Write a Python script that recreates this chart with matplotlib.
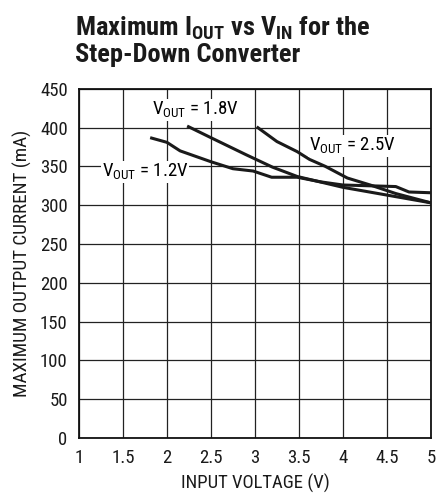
import matplotlib
matplotlib.use("Agg")
import matplotlib.pyplot as plt
from matplotlib import font_manager

names = set(f.name for f in font_manager.fontManager.ttflist)
fam = 'DejaVu Sans'
for n in ['Roboto Condensed', 'Archivo Narrow', 'PT Sans Narrow', 'Fira Sans Condensed']:
    if n in names:
        fam = n
        break
plt.rcParams['font.family'] = [fam, 'DejaVu Sans']
plt.rcParams['mathtext.fontset'] = 'custom'
plt.rcParams['mathtext.rm'] = fam
plt.rcParams['mathtext.bf'] = fam + ':bold'

# data
vin_12 = [1.81, 2.0, 2.15, 2.5, 2.75, 2.98, 3.19, 3.48, 3.75, 4.0, 4.3, 4.6, 4.75, 5.0]
iout_12 = [387, 381, 370, 356, 347, 344, 336, 336, 330, 326, 325, 324, 317, 316]
vin_18 = [2.23, 2.5, 2.9, 3.2, 3.48, 3.74, 4.0, 4.5, 5.0]
iout_18 = [402, 387, 365, 349, 337, 330, 323, 313, 303]
vin_25 = [3.02, 3.25, 3.48, 3.62, 3.8, 4.05, 4.31, 4.6, 5.0]
iout_25 = [401, 382, 369, 359, 350, 335, 326, 315, 303]

xticks = [1, 1.5, 2, 2.5, 3, 3.5, 4, 4.5, 5]
xtick_labels = ['1', '1.5', '2', '2.5', '3', '3.5', '4', '4.5', '5']
yticks = list(range(0, 451, 50))

fig = plt.figure(figsize=(4.38, 4.96), dpi=100)
ax = fig.add_axes([0.180, 0.117, 0.804, 0.704])

for x, y in [(vin_12, iout_12), (vin_18, iout_18), (vin_25, iout_25)]:
    ax.plot(x, y, color='#1a1a1a', lw=2.2, solid_capstyle='butt', zorder=3)

ax.set_xlim(1, 5)
ax.set_ylim(0, 450)
ax.set_xticks(xticks)
ax.set_xticklabels(xtick_labels)
ax.set_yticks(yticks)
ax.grid(True, color='#222222', lw=0.9)
ax.tick_params(length=0, labelsize=13.5, pad=8, colors='#1a1a1a')
for s in ax.spines.values():
    s.set_linewidth(1.3)
    s.set_color('#111111')

ax.set_xlabel('INPUT VOLTAGE (V)', fontsize=13.5, labelpad=5, color='#1a1a1a')
ax.set_ylabel('MAXIMUM OUTPUT CURRENT (mA)', fontsize=13.8, labelpad=6, color='#1a1a1a')

bbox = dict(facecolor='white', edgecolor='none', pad=0.5)
ax.text(1.26, 337, r'V$_{\mathregular{OUT}}$ = 1.2V', fontsize=13.5, ha='left', va='baseline', bbox=bbox, zorder=4)
ax.text(1.83, 416, r'V$_{\mathregular{OUT}}$ = 1.8V', fontsize=13.5, ha='left', va='baseline', bbox=bbox, zorder=4)
ax.text(3.61, 370, r'V$_{\mathregular{OUT}}$ = 2.5V', fontsize=13.5, ha='left', va='baseline', bbox=bbox, zorder=4)

fig.text(0.172, 1 - 35 / 496, r'Maximum I$_{\mathbf{OUT}}$ vs V$_{\mathbf{IN}}$ for the',
         fontsize=19, fontweight='bold', ha='left', va='baseline', color='#1a1a1a')
fig.text(0.172, 1 - 62 / 496, 'Step-Down Converter',
         fontsize=19, fontweight='bold', ha='left', va='baseline', color='#1a1a1a')

fig.savefig('out.png', dpi=100)
